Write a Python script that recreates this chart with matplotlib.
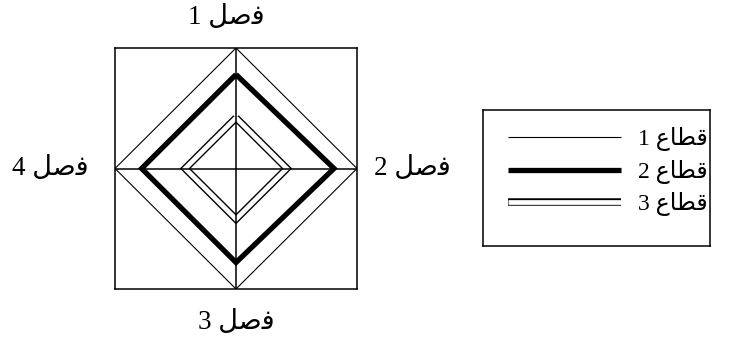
# -*- coding: utf-8 -*-
import numpy as np
import matplotlib.pyplot as plt
from matplotlib import patheffects as pe

plt.rcParams['font.family'] = ['Liberation Serif', 'DejaVu Sans']

# matplotlib does no Arabic shaping, so the labels are written in visual
# order with presentation forms: digit, space, word
seasons = ['1 \uFEDE\uFEBB\uFED3', '2 \uFEDE\uFEBB\uFED3',
           '3 \uFEDE\uFEBB\uFED3', '4 \uFEDE\uFEBB\uFED3']
sectors = ['1 \uFEC9\uFE8E\uFEC4\uFED7', '2 \uFEC9\uFE8E\uFEC4\uFED7',
           '3 \uFEC9\uFE8E\uFEC4\uFED7']
sector1 = [5, 5, 5, 5]
sector2 = [3.9, 4.05, 3.9, 3.9]
sector3 = [2.1, 2.1, 2.1, 2.1]
r_max = 5

# clockwise from the top
theta = 2 * np.pi * np.arange(len(seasons)) / len(seasons)

def to_xy(vals):
    v = np.append(vals, vals[0])
    t = np.append(theta, theta[0])
    return v * np.sin(t), v * np.cos(t)

fig = plt.figure(figsize=(7.43, 3.38), dpi=100)
ax = fig.add_axes([115 / 743, 49 / 338, 242 / 743, 241 / 338])
ax.set_xlim(-r_max, r_max)
ax.set_ylim(-r_max, r_max)
ax.set_xticks([])
ax.set_yticks([])
for s in ax.spines.values():
    s.set_linewidth(1.1)

ax.axhline(0, color='black', lw=1.1, zorder=5)
ax.axvline(0, color='black', lw=1.1, zorder=5)

x, y = to_xy(sector1)
ax.plot(x, y, color='black', lw=0.8, label=sectors[0], zorder=3,
        solid_capstyle='butt')
x, y = to_xy(sector2)
ax.plot(x, y, color='black', lw=3.8, label=sectors[1], zorder=3,
        solid_joinstyle='miter', solid_capstyle='butt')
x, y = to_xy(sector3)
ax.plot(x, y, color='white', lw=3.4, label=sectors[2], zorder=3,
        solid_joinstyle='miter', solid_capstyle='butt',
        path_effects=[pe.Stroke(linewidth=5.4, foreground='black'), pe.Normal()])

# season labels at the axis tips
offsets = [(-7, 22), (12, 0), (0, -24), (-19, 0)]
aligns = [('center', 'center'), ('left', 'center'),
          ('center', 'center'), ('right', 'center')]
for i, lab in enumerate(seasons):
    ax.annotate(lab, xy=(r_max * np.sin(theta[i]), r_max * np.cos(theta[i])),
                xytext=offsets[i], textcoords='offset points',
                ha=aligns[i][0], va=aligns[i][1], fontsize=19.5,
                annotation_clip=False)

# legend in its own framed box
lax = fig.add_axes([483 / 743, 92 / 338, 227 / 743, 136 / 338])
lax.set_xticks([])
lax.set_yticks([])
for s in lax.spines.values():
    s.set_linewidth(1.1)
h, l = ax.get_legend_handles_labels()
lax.legend(h, l, loc='center', frameon=False, fontsize=17,
           handlelength=4.8, handletextpad=0.7, labelspacing=0.36,
           borderaxespad=0, bbox_to_anchor=(0.55, 0.545))

fig.savefig('out.png', dpi=100)
